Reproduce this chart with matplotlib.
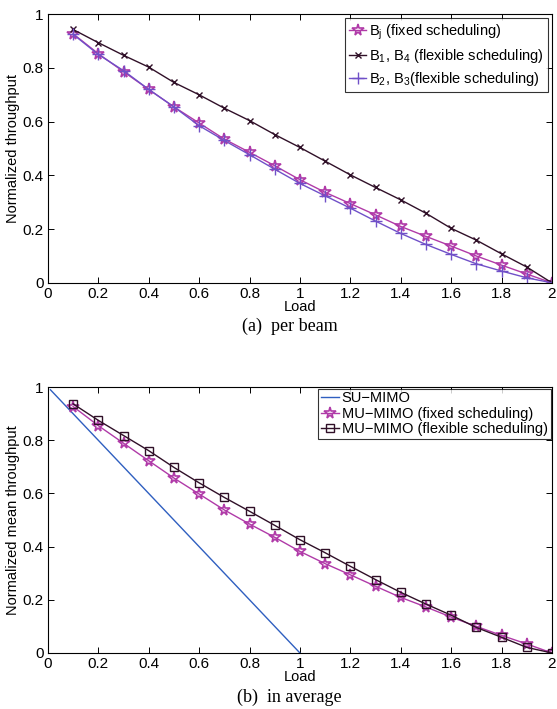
import matplotlib
matplotlib.use("Agg")
import matplotlib.pyplot as plt

load = [0.1, 0.2, 0.3, 0.4, 0.5, 0.6, 0.7, 0.8, 0.9, 1.0,
        1.1, 1.2, 1.3, 1.4, 1.5, 1.6, 1.7, 1.8, 1.9, 2.0]

# (a) per beam
bj_fixed = [0.927, 0.853, 0.786, 0.720, 0.655, 0.595, 0.535, 0.486, 0.436, 0.384,
            0.337, 0.295, 0.253, 0.210, 0.173, 0.137, 0.100, 0.066, 0.033, 0.0]
b14_flex = [0.943, 0.894, 0.847, 0.803, 0.746, 0.700, 0.650, 0.604, 0.552, 0.504,
            0.453, 0.402, 0.355, 0.309, 0.259, 0.203, 0.159, 0.108, 0.059, 0.0]
b23_flex = [0.925, 0.850, 0.790, 0.720, 0.655, 0.585, 0.530, 0.477, 0.423, 0.370,
            0.324, 0.278, 0.230, 0.184, 0.143, 0.106, 0.071, 0.044, 0.019, 0.0]

# (b) in average
su_load = [0.01, 1.0]
su_mimo = [0.99, 0.0]
mu_fixed = [0.927, 0.855, 0.789, 0.723, 0.658, 0.598, 0.538, 0.485, 0.435, 0.382,
            0.336, 0.294, 0.251, 0.209, 0.173, 0.135, 0.100, 0.066, 0.034, 0.0]
mu_flex = [0.937, 0.875, 0.818, 0.761, 0.698, 0.640, 0.585, 0.533, 0.480, 0.426,
           0.377, 0.326, 0.276, 0.228, 0.184, 0.142, 0.096, 0.059, 0.021, 0.0]

xticks = [0, 0.2, 0.4, 0.6, 0.8, 1, 1.2, 1.4, 1.6, 1.8, 2]
xticklabels = ['0', '0.2', '0.4', '0.6', '0.8', '1', '1.2', '1.4', '1.6', '1.8', '2']
yticks = [0, 0.2, 0.4, 0.6, 0.8, 1]
yticklabels = ['0', '0.2', '0.4', '0.6', '0.8', '1']

plt.rcParams['font.family'] = ['Liberation Sans', 'DejaVu Sans']
plt.rcParams['font.size'] = 10

MAGENTA = '#b03aa8'
DARK = '#301028'
PURPLE = '#7050c8'
BLUE = '#2f5fc0'

fig = plt.figure(figsize=(5.57, 7.09), dpi=100)
ax1 = fig.add_axes([0.086, 0.601, 0.905, 0.379])
ax2 = fig.add_axes([0.086, 0.079, 0.905, 0.375])


def style_axes(ax, ylabel):
    ax.set_xlim(0, 2)
    ax.set_ylim(0, 1)
    ax.set_xticks(xticks)
    ax.set_xticklabels(xticklabels)
    ax.set_yticks(yticks)
    ax.set_yticklabels(yticklabels)
    ax.tick_params(direction='in', top=True, right=True, length=4, width=0.7,
                   pad=3, labelsize=11)
    for s in ax.spines.values():
        s.set_linewidth(0.8)
    ax.set_xlabel('Load', labelpad=-1, fontsize=10.5)
    ax.set_ylabel(ylabel, labelpad=2, fontsize=10.5)


ax1.plot(load, bj_fixed, color=MAGENTA, lw=1, marker='*', ms=8.5, mfc='none',
         mec=MAGENTA, mew=1.2, label=r'B$_\mathregular{j}$ (fixed scheduling)')
ax1.plot(load, b14_flex, color=DARK, lw=1, marker='x', ms=5, mew=1,
         label=r'B$_\mathregular{1}$, B$_\mathregular{4}$ (flexible scheduling)')
ax1.plot(load, b23_flex, color=PURPLE, lw=1, marker='+', ms=9, mew=1,
         label=r'B$_\mathregular{2}$, B$_\mathregular{3}$(flexible scheduling)')
style_axes(ax1, 'Normalized throughput')
leg = ax1.legend(loc='upper right', fontsize=10.5, handlelength=1.2, handletextpad=0.2,
                 borderpad=0.3, labelspacing=0.35, borderaxespad=0.25, fancybox=False,
                 frameon=True, edgecolor='black')
leg.get_frame().set_linewidth(0.8)

ax2.plot(su_load, su_mimo, color=BLUE, lw=1, label='SU\u2212MIMO')
ax2.plot(load, mu_fixed, color=MAGENTA, lw=1, marker='*', ms=8.5, mfc='none',
         mec=MAGENTA, mew=1.2, label='MU\u2212MIMO (fixed scheduling)')
ax2.plot(load, mu_flex, color=DARK, lw=1, marker='s', ms=6, mfc='none', mew=1,
         label='MU\u2212MIMO (flexible scheduling)')
style_axes(ax2, 'Normalized mean throughput')
leg = ax2.legend(loc='upper right', fontsize=10.5, handlelength=1.2, handletextpad=0.2,
                 borderpad=0.2, labelspacing=0.1, borderaxespad=0.1, fancybox=False,
                 frameon=True, edgecolor='black')
leg.get_frame().set_linewidth(0.8)

fig.text(0.52, 0.54, '(a)  per beam', ha='center', va='center',
         family='Liberation Serif', fontsize=13)
fig.text(0.52, 0.017, '(b)  in average', ha='center', va='center',
         family='Liberation Serif', fontsize=13)

fig.savefig('out.png', dpi=100)
